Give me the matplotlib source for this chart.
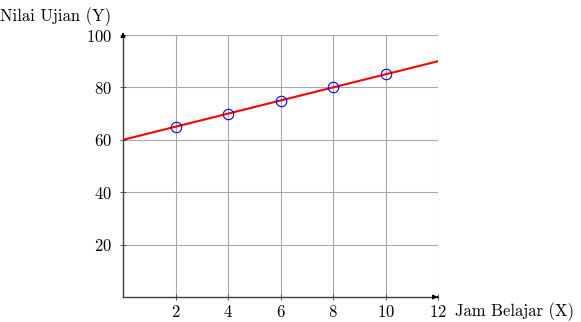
import matplotlib
matplotlib.use('Agg')
import matplotlib.pyplot as plt

plt.rcParams['font.family'] = ['cmr10', 'DejaVu Serif']
plt.rcParams['axes.formatter.use_mathtext'] = True

# data jam belajar vs nilai ujian
jam_belajar = [2, 4, 6, 8, 10]
nilai_ujian = [65, 70, 75, 80, 85]

# garis regresi: Y = 60 + 2.5 X
intercept = 60
slope = 2.5
garis_x = [0, 12]

x_ticks = [2, 4, 6, 8, 10, 12]
y_ticks = [20, 40, 60, 80, 100]

fig = plt.figure(figsize=(5.81, 3.22), dpi=100)
ax = fig.add_axes([0.2117, 0.0776, 0.5422, 0.8137])

ax.set_xlim(0, 12)
ax.set_ylim(0, 100)
ax.set_xticks(x_ticks)
ax.set_yticks(y_ticks)
ax.grid(True, color='#a8a8a8', linewidth=0.8)
ax.set_axisbelow(True)

for s in ['top', 'right']:
    ax.spines[s].set_visible(False)
for s in ['left', 'bottom']:
    ax.spines[s].set_color('#404040')
    ax.spines[s].set_linewidth(1.0)
ax.tick_params(direction='inout', length=4, width=0.6, colors='#404040',
               labelcolor='black', labelsize=12)
ax.tick_params(axis='x', pad=3)
ax.tick_params(axis='y', pad=6)

# panah di ujung sumbu
ax.annotate('', xy=(1.008, 0), xytext=(0.99, 0), xycoords='axes fraction',
            arrowprops=dict(arrowstyle='-|>', color='black', lw=0.8,
                            mutation_scale=7))
ax.annotate('', xy=(0, 1.01), xytext=(0, 0.99), xycoords='axes fraction',
            arrowprops=dict(arrowstyle='-|>', color='black', lw=0.8,
                            mutation_scale=7))

garis_y = [intercept + slope * x for x in garis_x]
ax.plot(garis_x, garis_y, color='red', linewidth=1.5, zorder=3)
ax.plot(jam_belajar, nilai_ujian, 'o', markersize=7.5, markerfacecolor='none',
        markeredgecolor='blue', markeredgewidth=0.8, zorder=4)

fig.text(0.0, 0.947, 'Nilai Ujian (Y)', fontsize=12, ha='left', va='center')
fig.text(0.783, 0.031, 'Jam Belajar (X)', fontsize=12, ha='left', va='center')

fig.savefig('out.png', dpi=100)
